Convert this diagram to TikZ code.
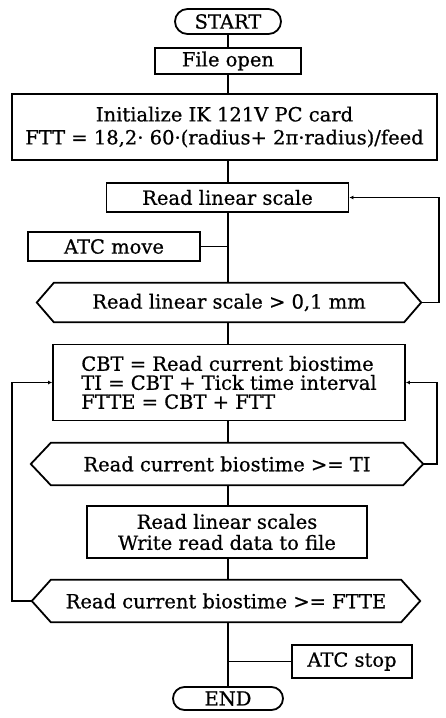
\documentclass[tikz,border=0pt]{standalone}
\usepackage{fontspec}
\setmainfont{DejaVu Serif}[BoldFont={DejaVu Serif},BoldFeatures={FakeBold=0.7}]
\usetikzlibrary{shapes.misc,arrows.meta,calc}
\newcommand{\myfs}{\fontsize{19.5}{23}\selectfont\bfseries}
\newcommand{\hexdraw}[2]{%
  \draw[ln] (#1.north west) -- (#1.north east) -- ([xshift=#2]#1.east) -- (#1.south east)
    -- (#1.south west) -- ([xshift=-#2]#1.west) -- cycle;}
\begin{document}
\begin{tikzpicture}[x=1pt,y=-1pt,
  every node/.style={font=\myfs, inner sep=0pt},
  ln/.style={line width=1.8pt},
  box/.style={draw, line width=1.8pt, align=center},
  term/.style={draw, line width=1.8pt, rounded rectangle},
  dectext/.style={align=center},
  back/.style={ln, -{Latex[length=4pt,width=4pt]}}]
\useasboundingbox (0,0) rectangle (446,718);

\node[term, minimum width=106pt, minimum height=25pt] (start) at (228,21.5) {START};
\node[box, minimum width=146pt, minimum height=26pt] (fopen) at (228,61) {File open};
\node[box, minimum width=425pt, minimum height=66pt] (init) at (224.5,127)
  {Initialize IK 121V PC card\\FTT = 18,2· 60·(radius+ 2π·radius)/feed};
\node[box, minimum width=242pt, minimum height=29pt] (rls) at (227.5,197.5) {Read linear scale};
\node[box, minimum width=172pt, minimum height=29pt] (atcm) at (114,246.5) {ATC move};
\node[dectext, minimum width=350pt, minimum height=39pt] (dec1) at (229,302.5)
  {Read linear scale > 0,1 mm};
\node[box, align=left, minimum width=352pt, minimum height=76pt,
  font=\fontsize{19.5}{19}\selectfont\bfseries] (cbt) at (229,382.5)
  {CBT = Read current biostime\\TI = CBT + Tick time interval\\FTTE = CBT + FTT};
\node[dectext, minimum width=352pt, minimum height=42pt] (dec2) at (227,464)
  {Read current biostime >= TI};
\node[box, minimum width=280pt, minimum height=52pt,
  font=\fontsize{19.5}{21}\selectfont\bfseries] (rls2) at (227,532)
  {Read linear scales\\Write read data to file};
\node[dectext, minimum width=350pt, minimum height=42pt] (dec3) at (226,601)
  {Read current biostime >= FTTE};
\node[box, minimum width=120pt, minimum height=33pt] (atcs) at (352,661.5) {ATC stop};
\node[term, minimum width=110pt, minimum height=23pt] (end) at (228,698.5) {END};

\hexdraw{dec1}{17}
\hexdraw{dec2}{20}
\hexdraw{dec3}{19}
\coordinate (d1r) at ([xshift=17]dec1.east);
\coordinate (d2r) at ([xshift=20]dec2.east);
\coordinate (d3l) at ([xshift=-19]dec3.west);

% main flow
\draw[ln] (start.south) -- (fopen.north);
\draw[ln] (fopen.south) -- (fopen.south |- init.north);
\draw[ln] (fopen.south |- init.south) -- (fopen.south |- rls.north);
\draw[ln] (fopen.south |- rls.south) -- (fopen.south |- dec1.north);
\draw[ln] (atcm.east) -- (fopen.south |- atcm.east);
\draw[ln] (fopen.south |- dec1.south) -- (fopen.south |- cbt.north);
\draw[ln] (fopen.south |- cbt.south) -- (fopen.south |- dec2.north);
\draw[ln] (fopen.south |- dec2.south) -- (fopen.south |- rls2.north);
\draw[ln] (fopen.south |- rls2.south) -- (fopen.south |- dec3.north);
\draw[ln] (fopen.south |- dec3.south) -- (end.north);
\draw[ln] (atcs.west) -- (fopen.south |- atcs.west);

% loops
\draw[back] (d1r) -- ++(18,0) |- (rls.east);
\draw[back] (d2r) -- ++(14,0) |- (cbt.east);
\draw[back] (d3l) -- ++(-20,0) |- (cbt.west);
\end{tikzpicture}
\end{document}
